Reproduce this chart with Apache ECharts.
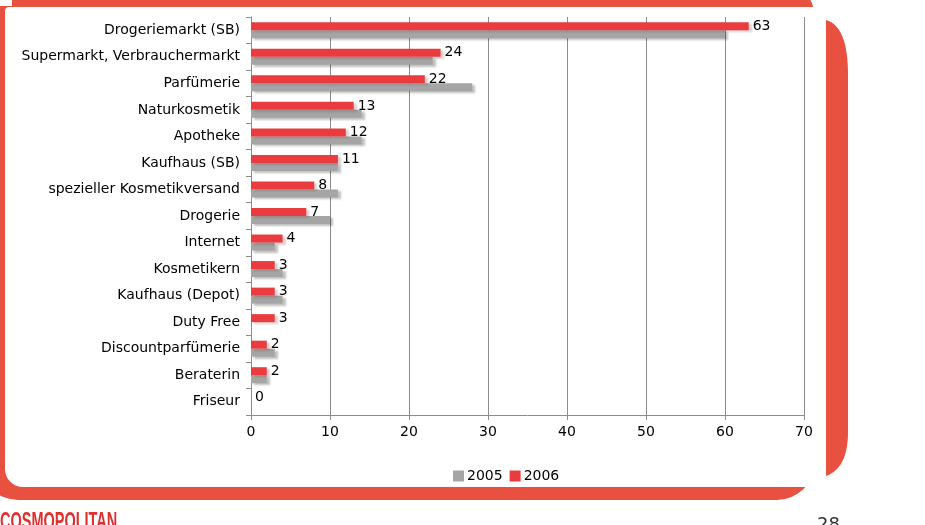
<!DOCTYPE html>
<html>
<head>
<meta charset="utf-8">
<script src="https://cdn.jsdelivr.net/npm/echarts@6/dist/echarts.min.js"></script>
<style>
  html, body { margin: 0; padding: 0; background: #fff; }
  #chart { width: 925px; height: 525px; }
</style>
</head>
<body>
<div id="chart"></div>
<script>
// Vertriebskanäle 2005 / 2006
const categories = [
  'Drogeriemarkt (SB)', 'Supermarkt, Verbrauchermarkt', 'Parfümerie', 'Naturkosmetik',
  'Apotheke', 'Kaufhaus (SB)', 'spezieller Kosmetikversand', 'Drogerie', 'Internet',
  'Kosmetikern', 'Kaufhaus (Depot)', 'Duty Free', 'Discountparfümerie', 'Beraterin', 'Friseur'
]
const values2006 = [63, 24, 22, 13, 12, 11, 8, 7, 4, 3, 3, 3, 2, 2, 0]
const values2005 = [60, 23, 28, 14, 14, 11, 11, 10, 3, 4, 4, 0, 3, 2, 0]
const xTicks = { min: 0, max: 70, interval: 10 }

const RED = '#ea3b3e'
const GRAY = '#a5a5a5'
const FRAME = '#e8503f'
const FONT = 'DejaVu Sans'

// rechter Zierstreifen: Kurve oben/unten als Polygon
const quad = (p0, p1, p2, n) => {
  const pts = []
  for (let i = 0; i <= n; i++) {
    const t = i / n
    pts.push([
      (1 - t) * (1 - t) * p0[0] + 2 * (1 - t) * t * p1[0] + t * t * p2[0],
      (1 - t) * (1 - t) * p0[1] + 2 * (1 - t) * t * p1[1] + t * t * p2[1]
    ])
  }
  return pts
}
const sidePoints = [
  ...quad([826, 20], [848, 26], [848, 75], 16),
  ...quad([848, 432], [848, 468], [826, 476], 16)
]

const chart = echarts.init(document.getElementById('chart'))

chart.setOption({
  animation: false,
  textStyle: { fontFamily: FONT },
  graphic: [
    { type: 'rect', z: -10, shape: { x: -20, y: -20, width: 835, height: 520, r: 38 }, style: { fill: FRAME } },
    { type: 'rect', z: -9, shape: { x: 5, y: 7, width: 880, height: 480, r: [4, 0, 0, 18] }, style: { fill: '#fff' } },
    { type: 'rect', z: -9, shape: { x: 0, y: 0, width: 12, height: 6 }, style: { fill: '#fff' } },
    { type: 'polygon', z: -9, shape: { points: sidePoints }, style: { fill: FRAME } },
    {
      type: 'text', x: 0, y: 511, scaleX: 0.63,
      style: { text: 'COSMOPOLITAN', fill: '#e0302e', font: 'bold 23px "Liberation Sans"' }
    },
    { type: 'text', x: 817, y: 516, style: { text: '28', fill: '#333', font: '18px "DejaVu Sans"' } }
  ],
  legend: {
    data: ['2005', '2006'],
    left: 448,
    top: 464,
    itemWidth: 11,
    itemHeight: 11,
    itemGap: 7,
    icon: 'rect',
    textStyle: { fontSize: 14, color: '#000', fontFamily: FONT, padding: [0, 0, 0, -2] }
  },
  grid: { left: 251, right: 121, top: 17, bottom: 110 },
  xAxis: {
    type: 'value',
    min: xTicks.min,
    max: xTicks.max,
    interval: xTicks.interval,
    axisLine: { show: true, lineStyle: { color: '#8c8c8c' } },
    axisTick: { show: true, length: 5, lineStyle: { color: '#8c8c8c' } },
    axisLabel: { color: '#000', fontSize: 14, margin: 10 },
    splitLine: { show: true, lineStyle: { color: '#8c8c8c', width: 1 } }
  },
  yAxis: {
    type: 'category',
    data: categories,
    inverse: true,
    axisLine: { show: true, lineStyle: { color: '#8c8c8c' } },
    axisTick: { show: true, length: 5, lineStyle: { color: '#8c8c8c' } },
    axisLabel: { color: '#000', fontSize: 14, margin: 11 }
  },
  series: [
    {
      name: '2006',
      type: 'bar',
      data: values2006,
      barWidth: 8,
      barGap: '0%',
      z: 3,
      itemStyle: {
        color: RED,
        shadowColor: 'rgba(120,60,60,0.25)',
        shadowOffsetX: 3,
        shadowOffsetY: 2,
        shadowBlur: 2
      },
      label: { show: true, position: 'right', distance: 4, color: '#000', fontSize: 14, fontFamily: FONT }
    },
    {
      name: '2005',
      type: 'bar',
      data: values2005,
      barWidth: 8,
      barGap: '0%',
      z: 2,
      itemStyle: {
        color: GRAY,
        shadowColor: 'rgba(0,0,0,0.25)',
        shadowOffsetX: 3,
        shadowOffsetY: 2,
        shadowBlur: 2
      }
    }
  ]
})
</script>
</body>
</html>
